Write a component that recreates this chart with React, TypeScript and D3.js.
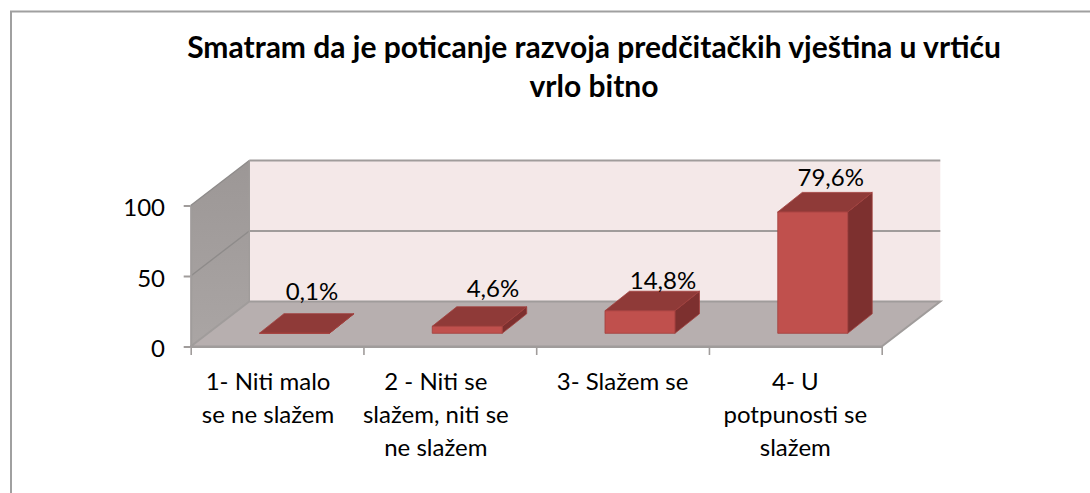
import React, { useRef, useEffect } from "react";
import * as d3 from "d3";

const title = [
  "Smatram da je poticanje razvoja predčitačkih vještina u vrtiću",
  "vrlo bitno",
];
const categories = [
  ["1- Niti malo", "se ne slažem"],
  ["2 - Niti se", "slažem, niti se", "ne slažem"],
  ["3- Slažem se"],
  ["4- U", "potpunosti se", "slažem"],
];
const values = [0.1, 4.6, 14.8, 79.6];
const valueLabels = ["0,1%", "4,6%", "14,8%", "79,6%"];
const yTicks = [0, 50, 100];
const gridValues = [50];

// nudges, the original has its own odd label placement
const catShift = [-9, -14, 0, 0];
const labelDx = [17.5, 25.7, 23, 18];
const labelDy = [-33, -29.5, -22, -26];

const FONT = "Lato, sans-serif";
const LINE = "#a09c9b";
const SIDE_LINE = "#8e8b8a";

export default function App() {
  const svgRef = useRef<SVGSVGElement>(null);

  useEffect(() => {
    const svg = d3.select(svgRef.current);
    svg.selectAll("*").remove();

    const x0 = 190.7,
      x1 = 881.7,
      yBase = 346.5,
      yTop = 205.5;
    const depth = { x: 58.6, y: -45 };
    const barOffset = { x: 17.4, y: -13.2 };
    const barDepth = { x: 24.5, y: -19.5 };

    const y = d3.scaleLinear().domain([0, 100]).range([yBase, yTop]);
    const yBar = d3
      .scaleLinear()
      .domain([0, 100])
      .range([yBase + barOffset.y, yBase + barOffset.y - 152.5]);
    const names = categories.map((c) => c.join(" "));
    const x = d3
      .scaleBand()
      .domain(names)
      .range([x0, x1])
      .paddingInner(0.595)
      .paddingOuter(0.2975);
    const xEdge = d3.scaleLinear().domain([0, 4]).range([x0, x1]);

    const poly = d3
      .line<[number, number]>()
      .x((d) => d[0])
      .y((d) => d[1])
      .curve(d3.curveLinearClosed);

    // chart frame, cut off by the crop on the right and bottom
    svg.append("path")
      .attr("d", "M11,493V11.5H1090")
      .attr("fill", "none")
      .attr("stroke", "#a0a0a0")
      .attr("stroke-width", 2);

    const defs = svg.append("defs");
    const grad = defs
      .append("linearGradient")
      .attr("id", "sideWall")
      .attr("x1", 0)
      .attr("x2", 0)
      .attr("y1", 0)
      .attr("y2", 1);
    grad.append("stop").attr("offset", "0%").attr("stop-color", "#9c9796");
    grad.append("stop").attr("offset", "100%").attr("stop-color", "#aaa5a4");

    const wall = svg.append("g");
    // back wall
    wall.append("path")
      .attr(
        "d",
        poly([
          [x0 + depth.x, y(100) + depth.y],
          [x1 + depth.x, y(100) + depth.y],
          [x1 + depth.x, y(0) + depth.y],
          [x0 + depth.x, y(0) + depth.y],
        ])
      )
      .attr("fill", "#f4e8e8");
    // side wall
    wall.append("path")
      .attr(
        "d",
        poly([
          [x0, y(100)],
          [x0 + depth.x, y(100) + depth.y],
          [x0 + depth.x, y(0) + depth.y],
          [x0, y(0)],
        ])
      )
      .attr("fill", "url(#sideWall)");
    // floor
    wall.append("path")
      .attr(
        "d",
        poly([
          [x0, y(0)],
          [x1, y(0)],
          [x1 + depth.x, y(0) + depth.y],
          [x0 + depth.x, y(0) + depth.y],
        ])
      )
      .attr("fill", "#b7afaf")
      .attr("stroke", LINE)
      .attr("stroke-width", 2);

    // top edge and gridlines run along side wall and back wall
    [...gridValues, 100].forEach((v) => {
      wall.append("path")
        .attr("d", `M${x0 + depth.x},${y(v) + depth.y}H${x1 + depth.x}`)
        .attr("fill", "none")
        .attr("stroke", LINE)
        .attr("stroke-width", 2.2);
      wall.append("path")
        .attr("d", `M${x0},${y(v)}L${x0 + depth.x},${y(v) + depth.y}`)
        .attr("fill", "none")
        .attr("stroke", SIDE_LINE)
        .attr("stroke-width", 1.4);
    });
    wall.append("path")
      .attr("d", `M${x0 + depth.x},${y(100) + depth.y}V${y(0) + depth.y}`)
      .attr("stroke", LINE)
      .attr("stroke-width", 1.4);

    // bars
    const bars = svg
      .append("g")
      .selectAll("g")
      .data(values)
      .join("g")
      .attr("stroke", "#a2403d")
      .attr("stroke-width", 0.8)
      .attr("stroke-linejoin", "round");

    const left = (i: number) => (x(names[i]) as number) + barOffset.x;
    const right = (i: number) => left(i) + x.bandwidth();

    bars.append("path")
      .attr("d", (d, i) =>
        poly([
          [right(i), yBar(d)],
          [right(i) + barDepth.x, yBar(d) + barDepth.y],
          [right(i) + barDepth.x, yBar(0) + barDepth.y],
          [right(i), yBar(0)],
        ])
      )
      .attr("fill", "#7d302f");
    bars.append("path")
      .attr("d", (d, i) =>
        poly([
          [left(i), yBar(d)],
          [left(i) + barDepth.x, yBar(d) + barDepth.y],
          [right(i) + barDepth.x, yBar(d) + barDepth.y],
          [right(i), yBar(d)],
        ])
      )
      .attr("fill", "#8f3a38");
    bars.append("rect")
      .attr("x", (d, i) => left(i))
      .attr("y", (d) => yBar(d))
      .attr("width", x.bandwidth())
      .attr("height", (d) => yBar(0) - yBar(d))
      .attr("fill", "#c0504d");

    // data labels
    svg.append("g")
      .selectAll("text")
      .data(values)
      .join("text")
      .attr("x", (d, i) => left(i) + x.bandwidth() / 2 + labelDx[i])
      .attr("y", (d, i) => yBar(d) + labelDy[i])
      .attr("text-anchor", "middle")
      .attr("font-family", FONT)
      .attr("font-size", 24)
      .attr("fill", "#000")
      .text((d, i) => valueLabels[i]);

    // y axis
    const yAxis = svg
      .append("g")
      .attr("transform", `translate(${x0},0)`)
      .call(
        d3
          .axisLeft(y)
          .tickValues(yTicks)
          .tickSizeInner(7)
          .tickSizeOuter(0)
          .tickPadding(18.7)
      );
    yAxis.select(".domain").attr("stroke", LINE).attr("stroke-width", 2);
    yAxis.selectAll("line").attr("stroke", LINE).attr("stroke-width", 2);
    yAxis.selectAll("text")
      .attr("dy", "10")
      .attr("font-family", FONT)
      .attr("font-size", 24)
      .attr("fill", "#000");

    // x axis, ticks sit on the category edges
    const xAxis = svg
      .append("g")
      .attr("transform", `translate(0,${yBase})`)
      .call(
        d3
          .axisBottom(xEdge)
          .tickValues([0, 1, 2, 3, 4])
          .tickFormat(() => "")
          .tickSizeInner(8.5)
          .tickSizeOuter(0)
      );
    xAxis.select(".domain").attr("stroke", LINE).attr("stroke-width", 2);
    xAxis.selectAll("line").attr("stroke", LINE).attr("stroke-width", 1.6);

    // category labels
    const catText = svg
      .append("g")
      .selectAll("text")
      .data(categories)
      .join("text")
      .attr("text-anchor", "middle")
      .attr("font-family", FONT)
      .attr("font-size", 24)
      .attr("fill", "#000");
    catText.each(function (lines, i) {
      const cx = (x(names[i]) as number) + x.bandwidth() / 2 + catShift[i];
      d3.select(this)
        .selectAll("tspan")
        .data(lines)
        .join("tspan")
        .attr("x", cx)
        .attr("y", (d, j) => 390 + j * 33)
        .text((d) => d);
    });

    // title
    svg.append("g")
      .selectAll("text")
      .data(title)
      .join("text")
      .attr("x", 594)
      .attr("y", (d, i) => 58 + i * 39)
      .attr("text-anchor", "middle")
      .attr("font-family", FONT)
      .attr("font-weight", 700)
      .attr("font-size", 30)
      .attr("fill", "#000")
      .text((d) => d);
  }, []);

  return (
    <svg
      ref={svgRef}
      width={1090}
      height={493}
      style={{ position: "absolute", left: 0, top: 0, background: "#fff" }}
    ></svg>
  );
}
